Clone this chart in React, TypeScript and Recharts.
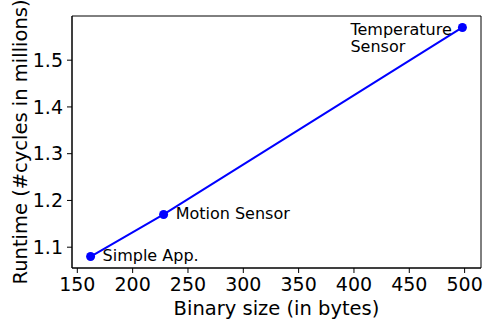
import React from 'react';
import { LineChart, Line, XAxis, YAxis, ReferenceArea, LabelList } from 'recharts';

const apps = ['Simple App.', 'Motion Sensor', 'Temperature Sensor'];
const binarySizes = [162, 228, 498];
const runtimes = [1.08, 1.17, 1.57];
const xTicks = [150, 200, 250, 300, 350, 400, 450, 500];
const yTicks = [1.1, 1.2, 1.3, 1.4, 1.5];

const data = apps.map((name, i) => ({ name, size: binarySizes[i], runtime: runtimes[i] }));

const xMin = Math.min(...binarySizes);
const xMax = Math.max(...binarySizes);
const yMin = Math.min(...runtimes);
const yMax = Math.max(...runtimes);
const xPad = (xMax - xMin) * 0.05;
const yPad = (yMax - yMin) * 0.05;
const xDomain: [number, number] = [xMin - xPad, xMax + xPad];
const yDomain: [number, number] = [yMin - yPad, yMax + yPad];

const FONT = '"DejaVu Sans", sans-serif';

const PointLabel = (props: any) => {
  const { x, y, value, index } = props;
  if (index === data.length - 1) {
    const parts = String(value).split(' ');
    const lx = x - 112;
    return (
      <text x={lx} y={y + 7.7} fontSize={16} fontFamily={FONT} fill="#000">
        <tspan x={lx} dy={0}>{parts[0]}</tspan>
        <tspan x={lx} dy={16.7}>{parts.slice(1).join(' ')}</tspan>
      </text>
    );
  }
  return (
    <text x={x + 12} y={y + 4.6} fontSize={16} fontFamily={FONT} fill="#000">
      {value}
    </text>
  );
};

const XLabel = (props: any) => {
  const { viewBox } = props;
  const cx = viewBox.x + viewBox.width / 2;
  return (
    <text x={cx} y={315} textAnchor="middle" fontSize={19.5} fontFamily={FONT} fill="#000">
      Binary size (in bytes)
    </text>
  );
};

const YLabel = (props: any) => {
  const { viewBox } = props;
  const cx = 27;
  const cy = viewBox.y + viewBox.height / 2;
  return (
    <text x={cx} y={cy} transform={`rotate(-90 ${cx} ${cy})`} textAnchor="middle" fontSize={19.5} fontFamily={FONT} fill="#000">
      Runtime (#cycles in millions)
    </text>
  );
};

export default function App() {
  return (
    <div style={{ position: 'absolute', left: 0, top: 0, width: 498, height: 332, background: '#fff' }}>
      <LineChart width={498} height={332} data={data} margin={{ top: 16, right: 17, bottom: 0, left: 0 }}>
        <XAxis
          type="number"
          dataKey="size"
          domain={xDomain}
          ticks={xTicks}
          allowDataOverflow
          height={64}
          tickSize={5}
          tickMargin={5}
          stroke="#000"
          tick={{ fontSize: 19, fill: '#000', fontFamily: FONT }}
          label={<XLabel />}
        />
        <YAxis
          type="number"
          dataKey="runtime"
          domain={yDomain}
          ticks={yTicks}
          allowDataOverflow
          width={72}
          tickSize={5}
          tickMargin={4}
          stroke="#000"
          tickFormatter={(v: number) => v.toFixed(1)}
          tick={{ fontSize: 19, fill: '#000', fontFamily: FONT }}
          label={<YLabel />}
        />
        <ReferenceArea
          x1={xDomain[0]}
          x2={xDomain[1]}
          y1={yDomain[0]}
          y2={yDomain[1]}
          fill="none"
          fillOpacity={0}
          stroke="#000"
          strokeWidth={1}
          ifOverflow="visible"
        />
        <Line
          dataKey="runtime"
          stroke="#0000ff"
          strokeWidth={2}
          dot={{ r: 4.5, fill: '#0000ff', stroke: 'none' }}
          isAnimationActive={false}
        >
          <LabelList dataKey="name" content={<PointLabel />} />
        </Line>
      </LineChart>
    </div>
  );
}
